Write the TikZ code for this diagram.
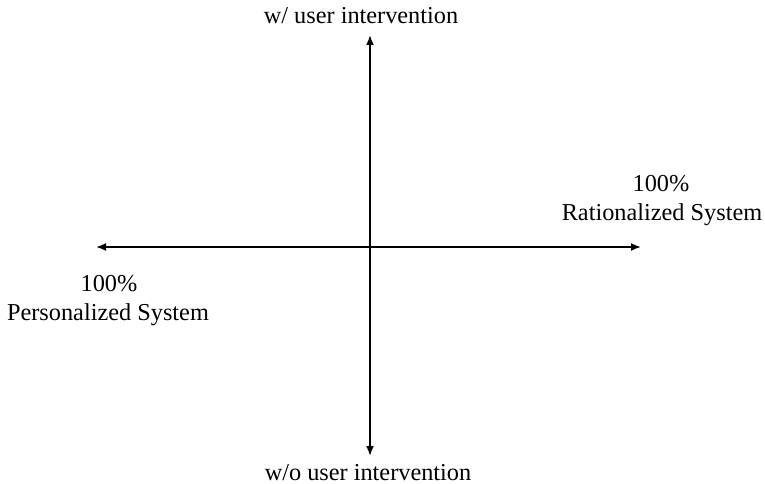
\documentclass[tikz,border=0pt]{standalone}
\usepackage{fontspec}
\setmainfont{Liberation Serif}
\usetikzlibrary{arrows.meta}
\begin{document}
\begin{tikzpicture}[x=1pt,y=-1pt,
  axis/.style={line width=1.8pt,-{Latex[length=10pt,width=8pt]}},
  lbl/.style={inner sep=0pt,anchor=base,font=\fontsize{24.3}{29}\selectfont}]
  \useasboundingbox (0,0) rectangle (765,484);
  % centre of the chart and the four axis ends
  \coordinate (o) at (370,247);
  \coordinate (top) at (370,35);
  \coordinate (bottom) at (370,456);
  \coordinate (left) at (96,247);
  \coordinate (right) at (641,247);
  \draw[axis] (o) -- (top);
  \draw[axis] (o) -- (bottom);
  \draw[axis] (o) -- (left);
  \draw[axis] (o) -- (right);
  % axis captions
  \node[lbl] (up) at (361,24) {w/ user intervention};
  \node[lbl] (down) at (368,480) {w/o user intervention};
  \node[lbl] (rpct) at (661,191) {100\%};
  \node[lbl] (rsys) at (662,220) {Rationalized System};
  \node[lbl] (lpct) at (109,291) {100\%};
  \node[lbl] (lsys) at (108,320) {Personalized System};
\end{tikzpicture}
\end{document}
